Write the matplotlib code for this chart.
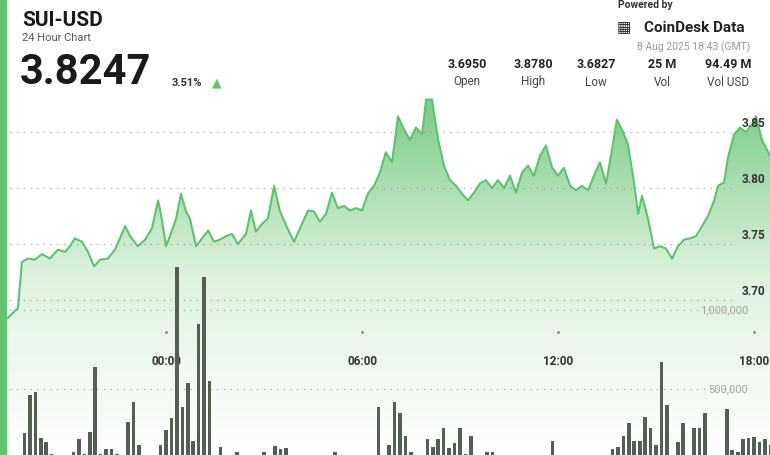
import matplotlib
matplotlib.use("Agg")
import matplotlib.pyplot as plt
import numpy as np
from matplotlib.patches import Polygon, Rectangle
from matplotlib.colors import LinearSegmentedColormap

plt.rcParams['font.family'] = ['Roboto', 'DejaVu Sans']

price_hours = [-4.84,-4.53,-4.41,-4.22,-4.01,-3.80,-3.55,-3.31,-3.09,-2.94,-2.79,-2.57,-2.39,-2.20,-2.02,-1.78,-1.56,-1.41,-1.25,-1.10,-0.86,-0.64,-0.43,-0.24,-0.12,0,0.12,0.31,0.46,0.61,0.73,0.92,1.10,1.29,1.47,1.65,1.84,2.02,2.20,2.45,2.60,2.75,2.94,3.12,3.31,3.49,3.67,3.92,4.10,4.35,4.53,4.71,4.90,5.08,5.26,5.45,5.63,5.82,6.00,6.18,6.37,6.55,6.73,6.92,7.10,7.29,7.47,7.65,7.84,7.96,8.14,8.33,8.51,8.69,8.88,9.06,9.24,9.43,9.61,9.79,9.98,10.16,10.35,10.53,10.71,10.90,11.08,11.26,11.45,11.63,11.82,12.00,12.18,12.37,12.55,12.73,12.92,13.10,13.28,13.47,13.65,13.80,13.96,14.14,14.33,14.45,14.57,14.75,14.94,15.12,15.30,15.49,15.67,15.86,16.04,16.22,16.41,16.59,16.78,16.90,17.08,17.20,17.39,17.57,17.75,17.94,18.06,18.24,18.49]
prices = [3.684,3.693,3.734,3.737,3.736,3.741,3.737,3.745,3.743,3.748,3.755,3.752,3.743,3.730,3.736,3.737,3.745,3.755,3.766,3.757,3.748,3.754,3.764,3.789,3.771,3.748,3.757,3.773,3.795,3.779,3.773,3.748,3.755,3.762,3.752,3.754,3.757,3.759,3.750,3.759,3.780,3.761,3.768,3.773,3.802,3.779,3.767,3.752,3.764,3.780,3.779,3.770,3.777,3.796,3.782,3.784,3.780,3.782,3.780,3.795,3.802,3.814,3.832,3.823,3.864,3.852,3.843,3.854,3.848,3.879,3.879,3.843,3.820,3.807,3.802,3.795,3.789,3.796,3.804,3.807,3.800,3.807,3.800,3.811,3.796,3.814,3.820,3.811,3.829,3.838,3.818,3.811,3.818,3.802,3.798,3.802,3.798,3.811,3.823,3.804,3.834,3.861,3.852,3.839,3.804,3.777,3.793,3.773,3.746,3.748,3.746,3.737,3.748,3.754,3.755,3.757,3.766,3.775,3.789,3.802,3.805,3.827,3.848,3.854,3.850,3.857,3.864,3.843,3.829]

volumes = [221,462,481,190,165,89,40,40,40,100,183,89,228,640,89,120,120,89,40,291,418,146,40,40,40,146,240,316,1272,386,538,171,911,1209,551,40,133,40,40,101,40,40,40,40,100,40,139,120,127,40,40,40,40,40,40,40,40,100,40,40,40,40,40,40,40,386,40,145,418,348,203,101,40,40,183,133,183,253,127,158,253,89,203,40,40,101,101,40,40,40,40,40,40,40,40,40,40,171,40,40,40,40,40,40,40,40,40,40,120,133,203,284,171,171,323,253,146,671,399,40,165,284,40,253,253,348,40,40,40,373,114,100,183,190,196,165,183,146,221]
volumes = [v * 1000 for v in volumes]
bar_start_hour = -26 / 6
bar_step = 1 / 6

x_ticks = [0, 6, 12, 18]
x_labels = ["00:00", "06:00", "12:00", "18:00"]
price_ticks = [3.70, 3.75, 3.80, 3.85]
vol_ticks = [500000, 1000000]

W, H = 770, 455
fig = plt.figure(figsize=(W/100, H/100), dpi=100)
fig.patch.set_facecolor("white")

def px(x, y):
    return x / W, 1 - y / H

hx0, hx1 = -166/32.67, (770-166)/32.67
ax = fig.add_axes([0, 0, 1, 360/H])
ax.set_xlim(hx0, hx1)
ptop = 3.85 + 37*0.000893
pbot = 3.70 - 155*0.000893
ax.set_ylim(pbot, ptop)
ax.axis("off")

grad = np.linspace(0, 1, 256).reshape(-1, 1)
cmap = LinearSegmentedColormap.from_list("g", ["#ffffff", "#dff2df", "#7acb86"])
im = ax.imshow(grad, extent=[hx0, hx1, pbot, 3.879], origin="lower", aspect="auto", cmap=cmap, zorder=1)
poly = Polygon(list(zip(price_hours, prices)) + [(price_hours[-1], pbot), (price_hours[0], pbot)],
               closed=True, transform=ax.transData, facecolor="none", edgecolor="none")
ax.add_patch(poly)
im.set_clip_path(poly)
ax.plot(price_hours, prices, color="#5cc46f", lw=1.5, zorder=3)

for p in price_ticks:
    ax.plot([hx0 + 10/32.67, hx0 + 735/32.67], [p, p], ls=(0, (1, 5)), color="#999999", lw=0.8, zorder=2)
    ax.text(hx0 + 765/32.67, p + 0.002, f"{p:.2f}", ha="right", va="bottom", fontsize=8.5,
            fontweight="bold", color="#333333", zorder=5)

ax2 = fig.add_axes([0, 0, 1, 360/H], sharex=ax)
ax2.set_ylim(82000, 2361000)
ax2.axis("off")
bx = [bar_start_hour + i * bar_step for i in range(len(volumes))]
ax2.bar(bx, volumes, width=0.11, bottom=0, color="#555e53", zorder=4, clip_on=True)
for v in vol_ticks:
    ax2.plot([hx0 + 10/32.67, hx0 + 735/32.67], [v, v], ls=(0, (1, 5)), color="#999999", lw=0.8, zorder=2)
    ax2.text(hx0 + 748/32.67, v, f"{v:,}", ha="right", va="center", fontsize=8, color="#a5a5a5", zorder=5)

for t, lab in zip(x_ticks, x_labels):
    ax.text(t, pbot + (455-362)*0.000893, lab, ha="center", va="center", fontsize=8.5,
            fontweight="bold", color="#333333", zorder=5)
    ax.plot([t], [pbot + (455-332)*0.000893], marker="o", ms=1, color="#888888", zorder=5)

fig.patches.append(Rectangle((0, 0), 6/W, 1, transform=fig.transFigure, color="#62c370", zorder=10))

fig.text(*px(22, 20), "SUI-USD", fontsize=15, fontweight="bold", color="#1a1a1a", va="center")
fig.text(*px(22, 38), "24 Hour Chart", fontsize=8, color="#555555", va="center")
fig.text(*px(20, 72), "3.8247", fontsize=30, fontweight="bold", color="#1a1a1a", va="center")
fig.text(*px(172, 83), "3.51%", fontsize=8, fontweight="bold", color="#333333", va="center")
fig.text(*px(217, 83), "▲", fontsize=9, color="#5cc46f", va="center", ha="center", family="DejaVu Sans")
fig.text(*px(645, 5), "Powered by", fontsize=7.5, fontweight="bold", color="#333333", va="center", ha="center")
fig.text(*px(694, 28), "CoinDesk Data", fontsize=11, fontweight="bold", color="#222222", va="center", ha="center")
fig.text(*px(624, 28), "▦", fontsize=11, color="#222222", va="center", ha="center", family="DejaVu Sans")
fig.text(*px(750, 47), "8 Aug 2025 18:43 (GMT)", fontsize=7.5, color="#999999", va="center", ha="right")
stats = [("3.6950", "Open", 467), ("3.8780", "High", 533), ("3.6827", "Low", 596), ("25 M", "Vol", 662), ("94.49 M", "Vol USD", 728)]
for v, l, x in stats:
    fig.text(*px(x, 64), v, fontsize=9, fontweight="bold", color="#222222", ha="center", va="center")
    fig.text(*px(x, 82), l, fontsize=8.5, color="#444444", ha="center", va="center")

fig.savefig("out.png", dpi=100)
